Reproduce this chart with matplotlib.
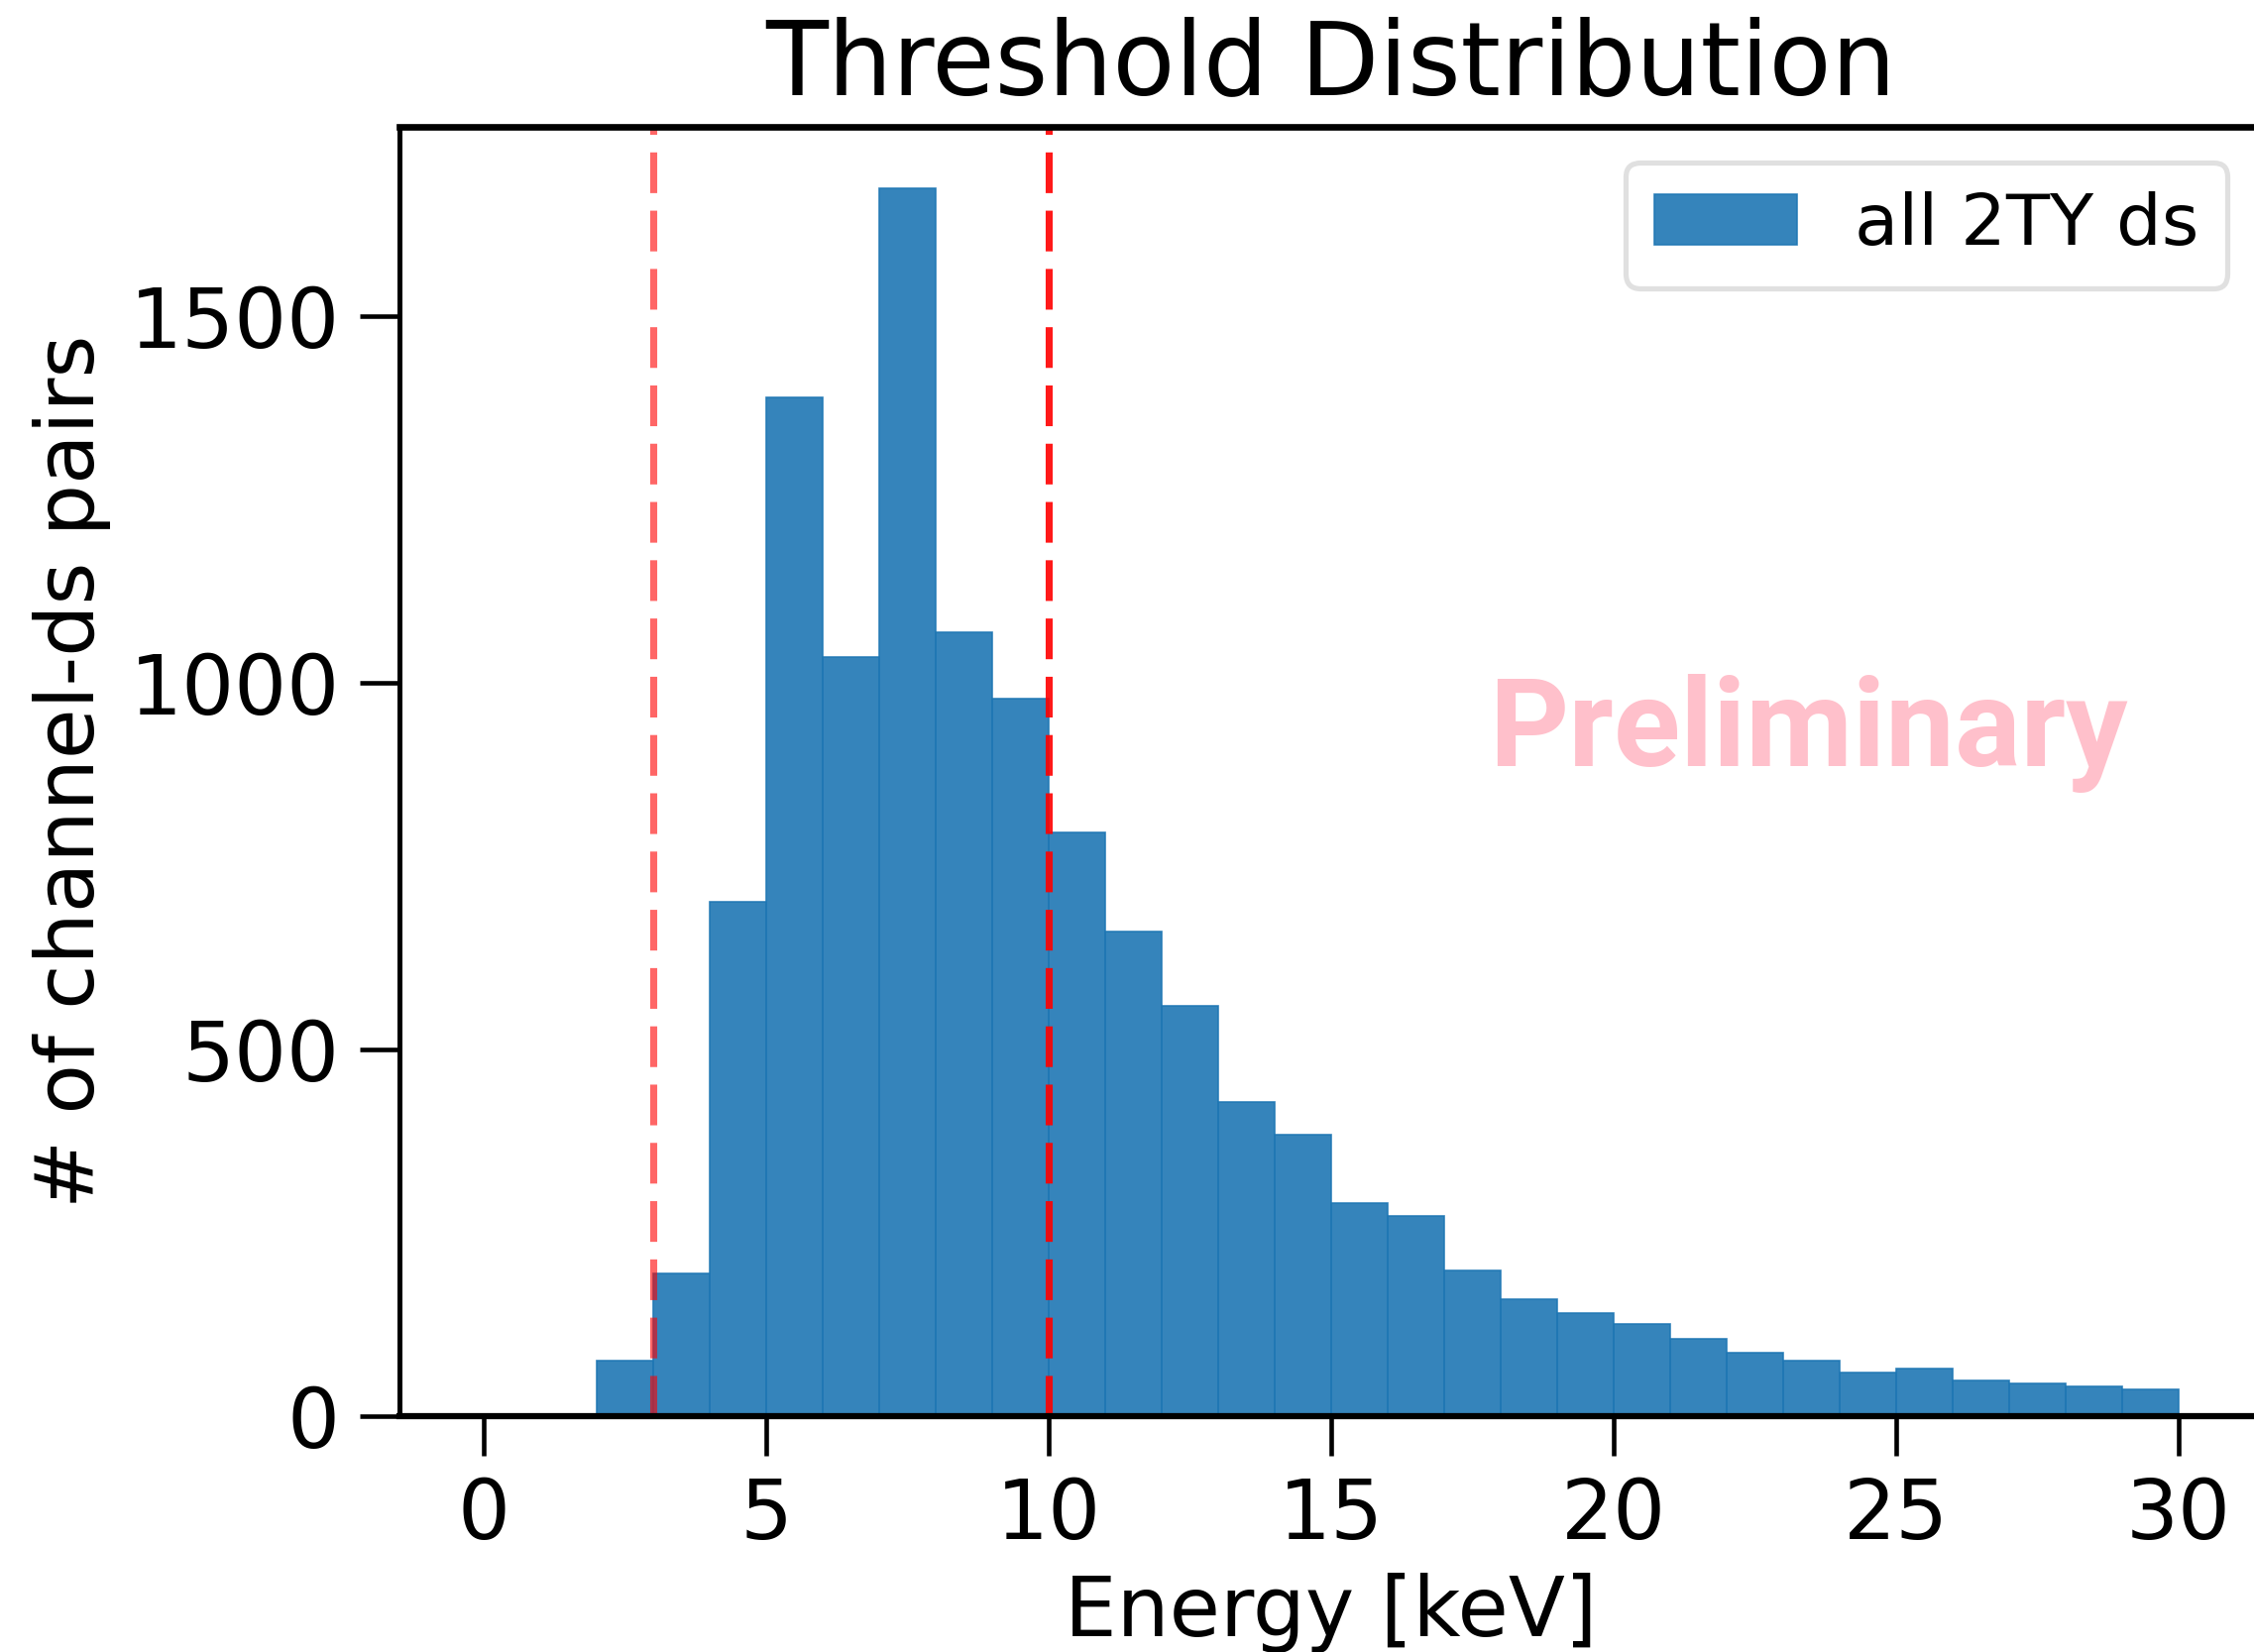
import numpy as np
import matplotlib
matplotlib.use("Agg")
import matplotlib.pyplot as plt

# histogram counts per 1 keV bin, 0..30 keV
bin_edges = np.arange(0, 31, 1)
counts = [0, 0, 75, 194, 702, 1390, 1035, 1675, 1069, 978,
          796, 661, 559, 429, 384, 290, 273, 198, 159, 141,
          125, 106, 86, 76, 59, 65, 49, 45, 41, 37]
thresholds = [3, 10]
threshold_alpha = [0.6, 0.9]
xticks = [0, 5, 10, 15, 20, 25, 30]
yticks = [0, 500, 1000, 1500]

plt.rcParams['font.family'] = ['DejaVu Sans']

fig = plt.figure(figsize=(7.58, 5.557), dpi=300)
ax = fig.add_axes([0.1772, 0.1428, 1.004 - 0.1772, 0.9232 - 0.1428])

centers = (bin_edges[:-1] + bin_edges[1:]) / 2
ax.hist(centers, bins=bin_edges, weights=counts, color='tab:blue', alpha=0.9,
        edgecolor='tab:blue', linewidth=0.4, label='all 2TY ds')

for t, a in zip(thresholds, threshold_alpha):
    ax.axvline(t, color='red', alpha=a, linestyle=(0, (5.8, 2.5)), linewidth=1.7)

ax.set_xticks(xticks)
ax.set_yticks(yticks)
ax.tick_params(axis='both', labelsize=20, length=9.5, width=1.1, pad=5)
ax.set_xlabel('Energy [keV]', fontsize=20, labelpad=4)
ax.set_ylabel('# of channel-ds pairs', fontsize=19.8, labelpad=4.3)
ax.set_title('Threshold Distribution', fontsize=24.7, pad=8)

ax.spines['top'].set_linewidth(1.6)
ax.spines['bottom'].set_linewidth(1.5)
ax.spines['left'].set_linewidth(1.2)
ax.spines['right'].set_visible(False)

ax.text(0.756, 0.53, 'Preliminary', transform=ax.transAxes, ha='center', va='center',
        fontsize=29.9, fontweight='bold', color='pink', family='Roboto')

leg = ax.legend(loc='upper right', fontsize=17.3)
leg.get_frame().set_edgecolor('#d9d9d9')
leg.get_frame().set_linewidth(1.25)

fig.savefig('out.png', dpi=300)
